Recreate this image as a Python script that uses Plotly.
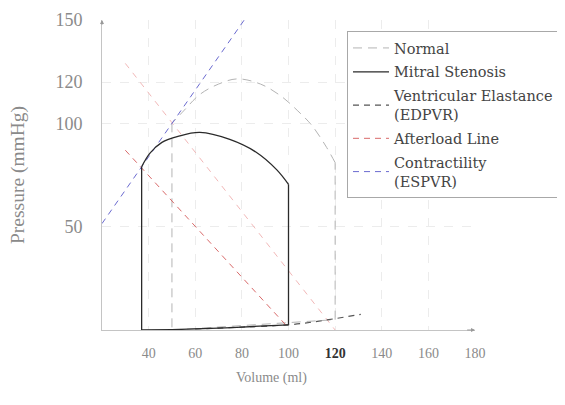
import plotly.graph_objects as go

# ---- data (volume in ml, pressure in mmHg) ----
normal_top_v = [120, 116, 110, 104, 97, 88, 78, 70, 62, 55, 50]
normal_top_p = [81, 89, 99, 106, 113, 119, 121.5, 119, 114, 106, 100]
normal_esv = 50
normal_edv = 120
normal_es_p = 100
normal_ed_top_p = 81
normal_bot_v = [50, 120]
normal_bot_p = [0, 5]

ms_top_v = [37, 40.5, 45.7, 52.6, 62, 74.8, 86.3, 95, 100]
ms_top_p = [79, 85.5, 90.8, 93.7, 95.6, 92.2, 85.9, 77.5, 70.5]
ms_bot_v = [37, 50, 60, 70, 80, 90, 100]
ms_bot_p = [0, 0.2, 0.5, 0.9, 1.4, 2.0, 2.5]

edpvr_v = [60, 80, 100, 110, 120, 131]
edpvr_p = [0.5, 1.4, 2.5, 3.8, 5.5, 7.6]

afterload_v = [30, 100]
afterload_p = [87, 1]
normal_afterload_v = [30, 120]
normal_afterload_p = [129, 0]

espvr_v = [20, 81]
espvr_p = [51.5, 150]

x_ticks = [40, 60, 80, 100, 120, 140, 160, 180]
x_tick_text = ["40", "60", "80", "100", "<b><span style='color:#333333'>120</span></b>", "140", "160", "180"]
y_ticks = [50, 100, 120, 150]

FONT = "Liberation Serif"
LFONT = "DejaVu Serif"
fig = go.Figure()

# Normal loop (faded)
ncol = "#b4b4b4"
ndash = "9px,6px"
fig.add_trace(go.Scatter(x=normal_top_v, y=normal_top_p, mode="lines", line=dict(color=ncol, width=1, dash=ndash, shape="spline"),
                         name="Normal", legendgroup="n", legendrank=1))
fig.add_trace(go.Scatter(x=[normal_esv, normal_esv, None, normal_edv, normal_edv],
                         y=[normal_es_p, 0, None, normal_bot_p[-1], normal_ed_top_p],
                         mode="lines", line=dict(color=ncol, width=1, dash=ndash), showlegend=False, legendgroup="n"))
fig.add_trace(go.Scatter(x=normal_bot_v, y=normal_bot_p, mode="lines", line=dict(color=ncol, width=1, dash=ndash),
                         showlegend=False, legendgroup="n"))
fig.add_trace(go.Scatter(x=normal_afterload_v, y=normal_afterload_p, mode="lines",
                         line=dict(color="#f2b8b8", width=1, dash="6px,6px"), showlegend=False))

# EDPVR
fig.add_trace(go.Scatter(x=edpvr_v, y=edpvr_p, mode="lines", line=dict(color="#555555", width=1.2, dash="6px,5px", shape="spline"),
                         name="Ventricular Elastance<br>(EDPVR)", legendrank=3))
# Afterload
fig.add_trace(go.Scatter(x=afterload_v, y=afterload_p, mode="lines", line=dict(color="#d96a6a", width=1, dash="6px,5px"),
                         name="Afterload Line", legendrank=4))
# ESPVR
fig.add_trace(go.Scatter(x=espvr_v, y=espvr_p, mode="lines", line=dict(color="#6a6ad0", width=1, dash="6px,5px"),
                         name="Contractility<br>(ESPVR)", legendrank=5))

# Mitral stenosis loop
mcol = "#2a2a2a"
fig.add_trace(go.Scatter(x=ms_top_v, y=ms_top_p, mode="lines", line=dict(color=mcol, width=1.3, shape="spline"),
                         name="Mitral Stenosis", legendgroup="m", legendrank=2))
fig.add_trace(go.Scatter(x=ms_bot_v, y=ms_bot_p, mode="lines", line=dict(color=mcol, width=1.3, shape="spline"),
                         showlegend=False, legendgroup="m"))
fig.add_trace(go.Scatter(x=[ms_top_v[0], ms_bot_v[0], None, ms_bot_v[-1], ms_top_v[-1]],
                         y=[ms_top_p[0], ms_bot_p[0], None, ms_bot_p[-1], ms_top_p[-1]],
                         mode="lines", line=dict(color=mcol, width=1.3), showlegend=False, legendgroup="m"))

axis_common = dict(showgrid=True, gridcolor="#ececec", griddash="dash", gridwidth=1,
                   showline=True, linecolor="#c4c4c4", linewidth=1, zeroline=False, ticks="")

# page body has an 8px margin: plot area should be x 102..475, y 20..330 on the page
L, T, W, H = 94, 12, 557, 397
R, B = 90, 75
pw, ph = W - L - R, H - T - B

fig.update_layout(
    width=W, height=H,
    margin=dict(l=L, r=R, t=T, b=B, autoexpand=False),
    paper_bgcolor="white", plot_bgcolor="white",
    showlegend=True,
    legend=dict(x=(347 - 102) / pw, y=1 - (31 - 20) / ph, xanchor="left", yanchor="top",
                bgcolor="white", bordercolor="#a8a8a8", borderwidth=1,
                font=dict(family=LFONT, size=14.5, color="#444444"),
                tracegroupgap=2, itemwidth=36),
    xaxis=dict(range=[20, 180], tickvals=x_ticks, ticktext=x_tick_text,
               ticklabelstandoff=10, tickfont=dict(family=FONT, size=14, color="#8a8a8a"), **axis_common),
    yaxis=dict(range=[0, 150], tickvals=y_ticks, ticktext=[str(v) for v in y_ticks],
               ticklabelstandoff=15, tickfont=dict(family=FONT, size=18, color="#8a8a8a"), **axis_common),
    annotations=[
        dict(x=180, y=0, ax=176, ay=0, xref="x", yref="y", axref="x", ayref="y", text="",
             showarrow=True, arrowhead=2, arrowsize=0.8, arrowwidth=1, arrowcolor="#999999"),
        dict(x=20, y=150, ax=20, ay=147, xref="x", yref="y", axref="x", ayref="y", text="",
             showarrow=True, arrowhead=2, arrowsize=0.8, arrowwidth=1, arrowcolor="#999999"),
        dict(x=(271 - 102) / pw, y=(330 - 378) / ph, xref="paper", yref="paper", text="Volume (ml)",
             showarrow=False, xanchor="center", yanchor="middle",
             font=dict(family=FONT, size=14, color="#8a8a8a")),
        dict(x=(18 - 102) / pw, y=(330 - 175) / ph, xref="paper", yref="paper", text="Pressure (mmHg)",
             showarrow=False, textangle=-90, xanchor="center", yanchor="middle",
             font=dict(family=FONT, size=19.5, color="#8a8a8a")),
    ],
)

fig.write_html("out.html")
